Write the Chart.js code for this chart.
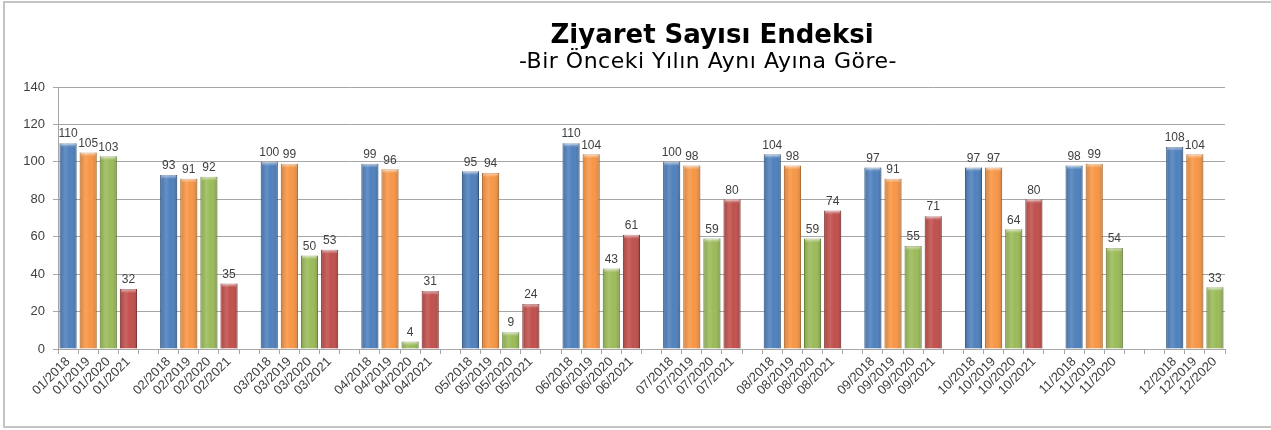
<!DOCTYPE html>
<html>
<head>
<meta charset="utf-8">
<script src="https://cdn.jsdelivr.net/npm/chart.js@4"></script>
<style>
  html, body { margin: 0; padding: 0; background: #fff; }
</style>
</head>
<body>
<canvas id="visitChart" width="1271" height="430"></canvas>
<script>
const months = ['01', '02', '03', '04', '05', '06', '07', '08', '09', '10', '11', '12'];
const years = ['2018', '2019', '2020', '2021'];
const values2018 = [110, 93, 100, 99, 95, 110, 100, 104, 97, 97, 98, 108];
const values2019 = [105, 91, 99, 96, 94, 104, 98, 98, 91, 97, 99, 104];
const values2020 = [103, 92, 50, 4, 9, 43, 59, 59, 55, 64, 54, 33];
const values2021 = [32, 35, 53, 31, 24, 61, 80, 74, 71, 80, null, null];
const yTicks = [0, 20, 40, 60, 80, 100, 120, 140];

const yearValues = [values2018, values2019, values2020, values2021];
const barColors = ['#4f81bd', '#f79646', '#9bbb59', '#c0504d'];
const edgeColors = ['#3a6291', '#c9742c', '#76923c', '#943c3a'];

// one slot per bar, plus an empty slot between months
let labels = [];
let seriesData = [[], [], [], []];
months.forEach((m, mi) => {
  years.forEach((y, yi) => {
    const v = yearValues[yi][mi];
    labels.push(v == null ? '' : `${m}/${y}`);
    seriesData.forEach((arr, si) => arr.push(si === yi ? v : null));
  });
  labels.push('');
  seriesData.forEach((arr) => arr.push(null));
});
// drop the trailing empty slots after the last bar
while (labels[labels.length - 1] === '') {
  labels.pop();
  seriesData.forEach((arr) => arr.pop());
}

const frameAndTitle = {
  id: 'frameAndTitle',
  beforeDraw(chart) {
    const ctx = chart.ctx;
    ctx.save();
    ctx.fillStyle = '#fff';
    ctx.fillRect(0, 0, chart.width, chart.height);
    ctx.strokeStyle = '#c4c4c4';
    ctx.lineWidth = 2;
    ctx.strokeRect(4, 2, 1300, 425);
    ctx.fillStyle = '#000';
    ctx.textAlign = 'center';
    ctx.textBaseline = 'alphabetic';
    ctx.font = 'bold 26px "DejaVu Sans"';
    ctx.fillText('Ziyaret Sayısı Endeksi', 712, 43);
    ctx.font = '22px "DejaVu Sans"';
    ctx.letterSpacing = '0.5px';
    ctx.fillText('-Bir Önceki Yılın Aynı Ayına Göre-', 708, 68);
    ctx.letterSpacing = '0px';
    ctx.restore();
  },
  afterDatasetsDraw(chart) {
    const ctx = chart.ctx;
    ctx.save();
    chart.data.datasets.forEach((ds, di) => {
      const meta = chart.getDatasetMeta(di);
      meta.data.forEach((bar, i) => {
        const v = ds.data[i];
        if (v == null) return;
        const left = bar.x - bar.width / 2;
        const top = bar.y;
        const h = bar.base - bar.y;
        // soft shading across the bar
        const g = ctx.createLinearGradient(left, 0, left + bar.width, 0);
        g.addColorStop(0, 'rgba(0,0,0,0.12)');
        g.addColorStop(0.35, 'rgba(255,255,255,0.12)');
        g.addColorStop(0.6, 'rgba(255,255,255,0)');
        g.addColorStop(1, 'rgba(0,0,0,0.18)');
        ctx.fillStyle = g;
        ctx.fillRect(left, top, bar.width, h);
        // light cap on top
        if (h > 3) {
          const cap = ctx.createLinearGradient(0, top, 0, top + 4);
          cap.addColorStop(0, 'rgba(255,255,255,0.55)');
          cap.addColorStop(1, 'rgba(255,255,255,0)');
          ctx.fillStyle = cap;
          ctx.fillRect(left + 1, top, bar.width - 2, 4);
        }
        // value label
        ctx.fillStyle = '#404040';
        ctx.font = '12px "Liberation Sans"';
        ctx.textAlign = 'center';
        ctx.textBaseline = 'bottom';
        ctx.fillText(String(v), bar.x, top - 3);
      });
    });
    ctx.restore();
  },
};

const config = {
  type: 'bar',
  data: {
    labels: labels,
    datasets: seriesData.map((d, i) => ({
      label: years[i],
      data: d,
      backgroundColor: barColors[i],
      borderColor: edgeColors[i],
      borderWidth: 1,
      barPercentage: 0.85,
      categoryPercentage: 1,
      skipNull: true,
    })),
  },
  options: {
    responsive: false,
    animation: false,
    layout: { padding: { left: 0, right: 46, top: 87, bottom: 0 } },
    plugins: {
      legend: { display: false },
      tooltip: { enabled: false },
      title: { display: false },
    },
    scales: {
      x: {
        stacked: true,
        grid: {
          offset: true,
          drawOnChartArea: false,
          drawTicks: true,
          tickLength: 5,
          color: '#a6a6a6',
        },
        border: { display: true, color: '#a6a6a6', width: 1 },
        ticks: {
          autoSkip: false,
          maxRotation: 45,
          minRotation: 45,
          color: '#404040',
          font: { family: 'Liberation Sans', size: 13 },
          padding: 0,
        },
        afterFit(scale) { scale.height = 81; },
      },
      y: {
        stacked: true,
        min: 0,
        max: 140,
        afterBuildTicks(scale) { scale.ticks = yTicks.map((v) => ({ value: v })); },
        grid: {
          color: '#a6a6a6',
          tickLength: 5,
        },
        border: { display: true, color: '#a6a6a6' },
        ticks: {
          color: '#404040',
          font: { family: 'Liberation Sans', size: 13 },
          padding: 8,
        },
        afterFit(scale) { scale.width = 58; },
      },
    },
  },
  plugins: [frameAndTitle],
};

new Chart(document.getElementById('visitChart'), config);
</script>
</body>
</html>
